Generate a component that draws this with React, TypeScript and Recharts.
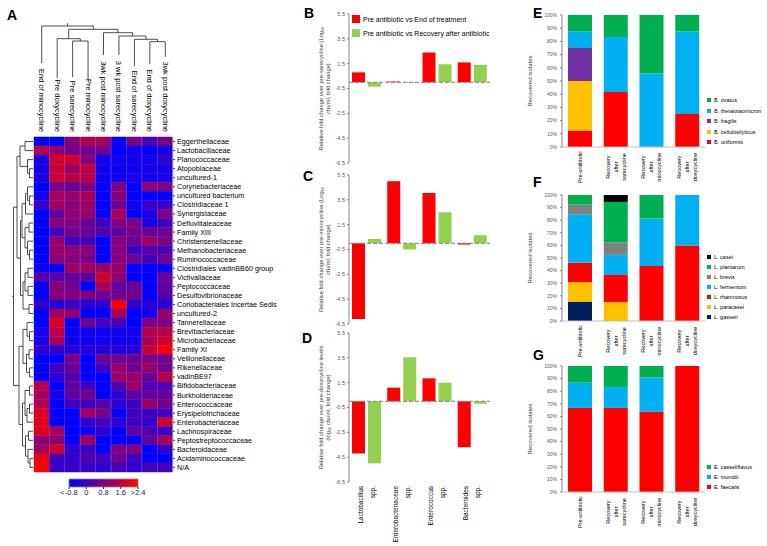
import React from "react";
import { BarChart, Bar, LineChart, Line, XAxis, YAxis, Cell, ReferenceLine, Legend } from "recharts";

const FONT = "'Liberation Sans', Arial, sans-serif";

// ---- panel A: heatmap ----
const hmCols = [
    "End of minocycline", "Pre doxycycline", "Pre sarecycline", "Pre minocycline", "3wk post minocycline",
    "3 wk post sarecycline", "End of sarecycline", "End of doxycycline", "3wk post doxycycline",
];
const hmRows = [
    "Eggerthellaceae", "Lactobacillaceae", "Planococcaceae", "Atopobiaceae", "uncultured-1", "Corynebacteriaceae",
    "uncultured bacterium", "Clostridiaceae 1", "Synergistaceae", "Defluviitaleaceae", "Family XIII",
    "Christensenellaceae", "Methanobacteriaceae", "Ruminococcaceae", "Clostridiales vadinBB60 group",
    "Victivallaceae", "Peptococcaceae", "Desulfovibrionaceae", "Coriobacteriales Incertae Sedis", "uncultured-2",
    "Tannerellaceae", "Brevibacteriaceae", "Microbacteriaceae", "Family XI", "Veillonellaceae", "Rikenellaceae",
    "vadinBE97", "Bifidobacteriaceae", "Burkholderiaceae", "Enterococcaceae", "Erysipelotrichaceae",
    "Enterobacteriaceae", "Lachnospiraceae", "Peptostreptococcaceae", "Bacteroidaceae", "Acidaminococcaceae", "N/A",
];
const hmValues = [
    [-0.8, -0.8, 0.9, 1.4, 1.2, -0.8, 0.7, 0.1, 0.7],
    [1.5, 1.1, 0.7, 0.6, 0.6, -0.8, -0.6, -0.8, -0.5],
    [-0.5, 1.8, 1.8, 0.9, -0.6, -0.6, -0.6, -0.5, -0.2],
    [-0.5, 1.7, 1.1, 1.6, -0.6, -0.6, -0.6, -0.5, -0.5],
    [-0.5, 1.7, 1.5, 1.5, -0.6, -0.6, -0.5, -0.5, -0.5],
    [-0.8, 0.7, 0.5, 0.7, -0.8, 0.8, -0.8, 1.0, 0.8],
    [-0.6, 1.3, 1.1, 1.3, -0.8, 0.9, -0.8, -0.8, -0.8],
    [-0.1, 1.2, 0.9, 1.1, -0.8, 0.6, -0.6, -0.1, -0.1],
    [-0.8, 0.4, 1.0, 1.1, -0.8, 1.3, -0.8, -0.5, 0.8],
    [-0.8, 0.9, 0.8, 0.5, 0.0, 0.8, 0.8, -0.5, 0.0],
    [-0.8, 0.0, 0.6, 0.5, 0.2, 0.4, 0.7, 0.5, 0.6],
    [-0.8, 1.1, 0.0, 0.1, -0.8, 0.9, 0.5, 1.1, 0.7],
    [-0.8, 1.1, 1.0, 0.9, -0.8, 0.9, 0.0, 0.3, 0.1],
    [-0.8, 1.0, 0.8, 0.7, -0.8, 0.9, 0.6, 0.1, 0.6],
    [-0.7, -0.8, 1.2, 1.2, 1.2, 1.0, -0.7, -0.7, -0.7],
    [0.3, 0.3, 0.4, 0.3, 1.8, 1.0, -0.8, -0.8, 0.5],
    [-0.8, 0.9, 0.6, -0.8, 1.3, 0.4, 0.6, -0.8, 0.4],
    [-0.8, 0.9, 0.8, 0.8, 0.6, 0.6, 0.6, -0.8, 0.2],
    [-0.1, -0.3, -0.1, -0.3, -0.3, 2.4, -0.2, -0.3, -0.3],
    [-0.8, 1.2, 1.0, -0.8, -0.8, 1.3, -0.8, -0.6, 1.1],
    [-0.8, 2.0, -0.8, 0.6, 0.1, 0.1, -0.8, 0.8, 0.8],
    [-0.5, 1.5, -0.6, -0.6, -0.6, -0.6, -0.6, 1.4, 1.5],
    [-0.5, 1.3, -0.6, -0.6, -0.6, -0.6, -0.6, 1.3, 1.8],
    [-0.2, -0.2, -0.3, -0.3, -0.3, -0.3, -0.3, 1.7, 2.3],
    [-0.8, -0.8, 0.7, -0.8, 0.6, 0.6, 0.6, 0.8, 0.6],
    [-0.8, 0.0, 0.5, -0.8, 0.0, 1.1, 0.6, 1.1, 0.6],
    [-0.8, -0.2, 0.2, -0.8, -0.8, 1.2, 1.1, 0.5, 1.5],
    [1.5, -0.8, 0.4, 0.0, -0.8, 0.2, 1.1, 0.2, 0.2],
    [1.3, -0.5, 0.4, 0.6, -0.8, -0.2, 0.4, 0.4, 0.5],
    [1.4, -0.8, 0.0, 0.0, 0.3, -0.2, 0.0, 1.1, 0.6],
    [2.0, -0.8, -0.8, 1.2, 0.7, -0.8, 0.0, 0.0, 0.0],
    [2.0, -0.8, -0.8, -0.2, 0.0, -0.2, 0.0, -0.2, 1.8],
    [2.0, 1.3, -0.8, -0.6, -0.2, -0.8, 0.4, 0.2, -0.1],
    [0.9, 1.0, -0.8, 1.2, -0.8, -0.8, -0.8, 0.4, 1.3],
    [1.2, 1.8, -0.2, 0.0, -0.8, 0.8, 0.8, -0.8, -0.2],
    [2.2, 0.0, -0.2, 0.2, 0.0, 0.6, 0.0, -0.8, -0.8],
    [2.4, -0.1, -0.1, -0.1, -0.2, 0.1, -0.2, 0.1, 0.1],
];

// dendrograms: [left node, right node, merge height]; nodes >= n are earlier merges
const colLinks = [
    [2, 3, 41], [1, 9, 43.3], [7, 8, 40.3], [6, 11, 42.7], [5, 12, 46], [4, 13, 49.3], [10, 14, 52.7], [0, 15, 56],
];
const colLeafBase = [19, 4, 5, 2, 27, 27, 16, 18, 25];
const colRootTop = 58.7;
const rowLinks = [
    [3, 4, 3.5], [2, 37, 5.5], [0, 1, 8], [39, 38, 13], [6, 7, 3.5], [5, 41, 5.5], [42, 8, 7.5], [9, 10, 4],
    [12, 13, 3.5], [11, 45, 5.5], [44, 46, 8], [43, 47, 11], [14, 15, 5], [16, 17, 5], [49, 50, 8], [18, 19, 4],
    [51, 52, 10], [48, 53, 12.5], [40, 54, 16], [21, 22, 3.5], [20, 56, 6], [23, 24, 4], [25, 26, 3.5], [58, 59, 6.5],
    [57, 60, 10], [27, 28, 3.5], [29, 30, 3.5], [63, 31, 6], [62, 64, 8], [32, 33, 4.5], [35, 36, 3], [34, 67, 5],
    [66, 68, 7.5], [65, 69, 10.5], [61, 70, 14], [55, 71, 19.5],
];
const rowRootTop = 21;

const scaleTicks = [-0.8, 0, 0.8, 1.6, 2.4];
const scaleLabels = ["<-0.8", "0", "0.8", "1.6", ">2.4"];

// ---- panels B-D: fold change ----
const taxa = ["Lactobacillus spp.", "Enterobacteriaceae spp.", "Enterococcus spp.", "Bacteroides spp."];
const foldTicks = [-6.5, -4.5, -2.5, -0.5, 1.5, 3.5, 5.5];
const sareEnd = [0.8, 0.06, 2.4, 1.6];
const sareRec = [-0.35, -0.05, 1.45, 1.4];
const minoEnd = [-6.1, 5.0, 4.05, -0.1];
const minoRec = [0.35, -0.5, 2.5, 0.65];
const doxyEnd = [-4.2, 1.1, 1.85, -3.7];
const doxyRec = [-5.0, 3.55, 1.5, -0.2];

// ---- panels E-G: recovered isolates (%) ----
const isoCats = ["Pre-antibiotic", "Recovery after sarecycline", "Recovery after minocycline", "Recovery after doxycycline"];
const pctTicks = [0, 10, 20, 30, 40, 50, 60, 70, 80, 90, 100];

const bUniformis = [12.5, 41.7, 0, 25];
const bCellulosilyticus = [37.5, 0, 0, 0];
const bFragilis = [25, 0, 0, 0];
const bTheta = [12.5, 41.6, 55.6, 62.5];
const bOvatus = [12.5, 16.7, 44.4, 12.5];

const lGasseri = [15.4, 0, 0, 0];
const lParacasei = [15.4, 15, 0, 0];
const lRhamnosus = [15.4, 21.5, 43.75, 60];
const lFermentum = [38.5, 16, 37.5, 40];
const lBrevis = [7.7, 10, 0, 0];
const lPlantarum = [7.6, 32, 18.75, 0];
const lCasei = [0, 5.5, 0, 0];

const eFaecalis = [66.7, 66.7, 63.6, 100];
const eMundtii = [20, 16.6, 27.3, 0];
const eCasseliflavus = [13.3, 16.7, 9.1, 0];

const bacteroidesSeries = [
    { name: "B. uniformis", color: "#FF0000", values: bUniformis },
    { name: "B. cellulosilyticus", color: "#FFC000", values: bCellulosilyticus },
    { name: "B. fragilis", color: "#7030A0", values: bFragilis },
    { name: "B. thetaiotaomicron", color: "#00B0F0", values: bTheta },
    { name: "B. ovatus", color: "#00B050", values: bOvatus },
];
const lactoSeries = [
    { name: "L. gasseri", color: "#002060", values: lGasseri },
    { name: "L. paracasei", color: "#FFC000", values: lParacasei },
    { name: "L. rhamnosus", color: "#FF0000", values: lRhamnosus },
    { name: "L. fermentum", color: "#00B0F0", values: lFermentum },
    { name: "L. brevis", color: "#808080", values: lBrevis },
    { name: "L. plantarum", color: "#00B050", values: lPlantarum },
    { name: "L. casei", color: "#000000", values: lCasei },
];
const enteroSeries = [
    { name: "E. faecalis", color: "#FF0000", values: eFaecalis },
    { name: "E. mundtii", color: "#00B0F0", values: eMundtii },
    { name: "E. casseliflavus", color: "#00B050", values: eCasseliflavus },
];

const heatColor = (v: number) => {
    const t = Math.min(1, Math.max(0, (v + 0.8) / 3.2));
    return `rgb(${Math.round(255 * t)},0,${Math.round(255 * (1 - t))})`;
};

function dendroPoints(links: number[][], n: number, base: number[] | null, rootTop: number, sideways: boolean) {
    const pos: number[] = [];
    const h: number[] = [];
    for (let i = 0; i < n; i++) {
        pos.push(i + 0.5);
        h.push(base ? base[i] : 0);
    }
    const pts: { x: number; y: number | null }[] = [];
    const add = (p: number, d: number) => pts.push(sideways ? { x: d, y: p } : { x: p, y: d });
    links.forEach(([a, b, d]) => {
        add(pos[a], h[a]);
        add(pos[a], d);
        add(pos[b], d);
        add(pos[b], h[b]);
        pts.push({ x: pts[pts.length - 1].x, y: null });
        pos.push((pos[a] + pos[b]) / 2);
        h.push(d);
    });
    const root = pos.length - 1;
    add(pos[root], h[root]);
    add(pos[root], rootTop);
    return pts;
}

const ColTick = ({ x, y, payload }: any) => (
    <text x={x} y={y} transform={`rotate(90 ${x} ${y})`} textAnchor="end" dominantBaseline="central"
        fontSize={7.5} fontFamily={FONT} fill="#000">
        {payload.value}
    </text>
);

const RowTick = ({ x, y, payload }: any) => (
    <text x={x} y={y} textAnchor="start" dominantBaseline="central" fontSize={7.2} fontFamily={FONT} fill="#000">
        {hmRows[Math.floor(payload.value)]}
    </text>
);

function Heatmap() {
    const data = hmCols.map((name) => {
        const row: any = { name };
        hmRows.forEach((_, r) => { row[`r${r}`] = 1; });
        return row;
    });
    const rowTicks = hmRows.map((_, i) => i + 0.5);
    return (
        <div style={{ position: "absolute", left: 0, top: 0 }}>
            <BarChart width={300} height={546} data={data} margin={{ top: 136, right: 0, bottom: 74, left: 34 }} barCategoryGap={0}>
                <XAxis dataKey="name" orientation="top" height={1} axisLine={false} tickLine={false} tickSize={0}
                    tickMargin={5} interval={0} tick={ColTick} />
                <YAxis orientation="right" type="number" domain={[0, 37]} reversed ticks={rowTicks} interval={0}
                    width={127} tickSize={2} tickMargin={2} axisLine={{ stroke: "#bbb" }} tickLine={{ stroke: "#444" }}
                    tick={RowTick} />
                {hmRows.map((_, r) => (
                    <Bar key={r} dataKey={`r${r}`} stackId="hm" isAnimationActive={false}>
                        {hmCols.map((__, c) => {
                            const col = heatColor(hmValues[r][c]);
                            return <Cell key={c} fill={col} stroke={col} strokeWidth={0.5} />;
                        })}
                    </Bar>
                ))}
            </BarChart>
        </div>
    );
}

function Dendrograms() {
    const colPts = dendroPoints(colLinks, hmCols.length, colLeafBase, colRootTop, false);
    const rowPts = dendroPoints(rowLinks, hmRows.length, null, rowRootTop, true);
    return (
        <>
            <div style={{ position: "absolute", left: 0, top: 0 }}>
                <LineChart width={300} height={90} data={colPts} margin={{ top: 20, right: 127, bottom: 8, left: 34 }}>
                    <XAxis type="number" dataKey="x" domain={[0, 9]} hide />
                    <YAxis type="number" domain={[0, 62]} hide />
                    <Line dataKey="y" stroke="#222" strokeWidth={0.8} dot={false} connectNulls={false} isAnimationActive={false} />
                </LineChart>
            </div>
            <div style={{ position: "absolute", left: 0, top: 0 }}>
                <LineChart width={300} height={546} data={rowPts} margin={{ top: 137, right: 267, bottom: 74, left: 10 }}>
                    <XAxis type="number" dataKey="x" domain={[0, 23]} reversed hide />
                    <YAxis type="number" domain={[0, 37]} reversed hide />
                    <Line dataKey="y" stroke="#222" strokeWidth={0.8} dot={false} connectNulls={false} isAnimationActive={false} />
                </LineChart>
            </div>
        </>
    );
}

function ColorScale() {
    const span = [{ name: "scale", range: [scaleTicks[0], scaleTicks[scaleTicks.length - 1]] }];
    return (
        <div style={{ position: "absolute", left: 60, top: 470 }}>
            <BarChart layout="vertical" width={90} height={35} data={span} margin={{ top: 9, right: 12, bottom: 6, left: 9 }}
                barCategoryGap={0}>
                <XAxis type="number" domain={[-0.8, 2.4]} ticks={scaleTicks} interval={0} height={12}
                    tickSize={2} tickMargin={1} axisLine={false} tickLine={{ stroke: "#333" }}
                    tick={{ fontSize: 7.5, fill: "#222", fontFamily: FONT }}
                    tickFormatter={(v: number) => scaleLabels[scaleTicks.indexOf(v)]} />
                <YAxis type="category" dataKey="name" hide />
                <Bar dataKey="range" fill="url(#hmGrad)" stroke="#888" strokeWidth={0.8} isAnimationActive={false} />
            </BarChart>
        </div>
    );
}

const axisLabel = (lines: string[], dx: number, size: number) => ({ viewBox }: any) => {
    const cy = viewBox.y + viewBox.height / 2;
    return (
        <g>
            {lines.map((t, i) => {
                const lx = viewBox.x + dx + i * 7;
                return (
                    <text key={i} x={lx} y={cy} transform={`rotate(-90 ${lx} ${cy})`} textAnchor="middle"
                        fontSize={size} fontFamily={FONT} fill="#404040">
                        {t}
                    </text>
                );
            })}
        </g>
    );
};

const TaxonTick = ({ x, y, payload }: any) => {
    const words = String(payload.value).split(" ");
    return (
        <g>
            {words.map((w, i) => {
                const lx = x + (i - (words.length - 1) / 2) * 12 + 2;
                return (
                    <text key={i} x={lx} y={y} transform={`rotate(-90 ${lx} ${y})`} textAnchor="end"
                        fontSize={6.5} fontFamily={FONT} fill="#000">
                        {w}
                    </text>
                );
            })}
        </g>
    );
};

function FoldPanel({ top, height, bottom, end, rec, lines, cats, legend }: any) {
    const data = taxa.map((name, i) => ({ name, end: end[i], rec: rec[i] }));
    return (
        <div style={{ position: "absolute", left: 300, top }}>
            <BarChart width={200} height={height} data={data} margin={{ top: 5, right: 10, bottom, left: 29 }}
                barGap={3} barSize={13}>
                <XAxis dataKey="name" hide={!cats} axisLine={false} tickLine={false} interval={0} height={55}
                    tickSize={0} tickMargin={4} tick={TaxonTick} />
                <YAxis domain={[-6.5, 5.5]} ticks={foldTicks} interval={0} width={20} tickSize={2} tickMargin={2}
                    axisLine={{ stroke: "#868686" }} tickLine={{ stroke: "#868686" }}
                    tick={{ fontSize: 5.5, fill: "#595959", fontFamily: FONT }}
                    label={{ content: axisLabel(lines, -6, 5.8) }} />
                <Bar dataKey="end" name="Pre antibiotic vs End of treatment" fill="#FF0000" isAnimationActive={false} />
                <Bar dataKey="rec" name="Pre antibiotic vs Recovery after antibiotic" fill="#92D050" isAnimationActive={false} />
                <ReferenceLine y={0} stroke="#7f7f7f" strokeDasharray="4 2" />
                {legend && (
                    <Legend layout="vertical" align="center" verticalAlign="middle"
                        wrapperStyle={{ left: 52, top: 3, width: "auto", height: "auto" }}
                        content={() => (
                            <div style={{ fontFamily: FONT, fontSize: 7, color: "#000" }}>
                                {[["Pre antibiotic vs End of treatment", "#FF0000"], ["Pre antibiotic vs Recovery after antibiotic", "#92D050"]].map(([n, c]) => (
                                    <div key={n} style={{ display: "flex", alignItems: "center", height: 14, whiteSpace: "nowrap" }}>
                                        <span style={{ width: 8, height: 8, background: c, marginRight: 3, display: "inline-block" }} />
                                        {n}
                                    </div>
                                ))}
                            </div>
                        )} />
                )}
            </BarChart>
        </div>
    );
}

const IsoTick = ({ x, y, payload }: any) => {
    const words = String(payload.value).split(" ");
    const cy = y + 18;
    return (
        <g>
            {words.map((w, i) => {
                const lx = x + (i - (words.length - 1) / 2) * 8 + 2;
                return (
                    <text key={i} x={lx} y={cy} transform={`rotate(-90 ${lx} ${cy})`} textAnchor="middle"
                        fontSize={5.5} fontFamily={FONT} fill="#000">
                        {w}
                    </text>
                );
            })}
        </g>
    );
};

function IsoPanel({ top, plotH, series, legendTop, rowH }: any) {
    const data = isoCats.map((name, i) => {
        const d: any = { name };
        series.forEach((s: any, k: number) => { d[`s${k}`] = s.values[i]; });
        return d;
    });
    const legendItems = [...series].reverse();
    return (
        <div style={{ position: "absolute", left: 500, top }}>
            <BarChart width={267} height={5 + plotH + 45} data={data} margin={{ top: 5, right: 62, bottom: 0, left: 40 }} barSize={24}>
                <XAxis dataKey="name" interval={0} axisLine={{ stroke: "#bfbfbf" }} tickLine={false} height={45}
                    tickSize={0} tickMargin={2} tick={IsoTick} />
                <YAxis domain={[0, 100]} ticks={pctTicks} interval={0} width={22} tickSize={2} tickMargin={3}
                    axisLine={{ stroke: "#868686" }} tickLine={{ stroke: "#868686" }}
                    tick={{ fontSize: 5, fill: "#595959", fontFamily: FONT }}
                    tickFormatter={(v: number) => `${v}%`}
                    label={{ content: axisLabel(["Recovered isolates"], -8, 6) }} />
                {series.map((s: any, k: number) => (
                    <Bar key={s.name} dataKey={`s${k}`} name={s.name} stackId="s" fill={s.color} isAnimationActive={false} />
                ))}
                <Legend layout="vertical" align="center" verticalAlign="middle"
                    wrapperStyle={{ left: 207, top: legendTop, width: "auto", height: "auto" }}
                    content={() => (
                        <div style={{ fontFamily: FONT, fontSize: 5.5, color: "#000" }}>
                            {legendItems.map((s: any) => (
                                <div key={s.name} style={{ display: "flex", alignItems: "center", height: rowH, whiteSpace: "nowrap" }}>
                                    <span style={{ width: 4, height: 4, background: s.color, marginRight: 3, display: "inline-block" }} />
                                    {s.name}
                                </div>
                            ))}
                        </div>
                    )} />
            </BarChart>
        </div>
    );
}

const PanelLetter = ({ ch, left, top }: any) => (
    <div style={{ position: "absolute", left, top, font: `bold 14px ${FONT}`, lineHeight: "14px" }}>{ch}</div>
);

export default function App() {
    return (
        <div style={{ position: "absolute", left: 0, top: 0, width: 767, height: 546, background: "#fff", overflow: "hidden", fontFamily: FONT }}>
            <svg width={1} height={1} style={{ position: "absolute", left: 0, top: 0 }}>
                <defs>
                    <linearGradient id="hmGrad" x1="0" x2="1" y1="0" y2="0">
                        <stop offset="0" stopColor={heatColor(scaleTicks[0])} />
                        <stop offset="1" stopColor={heatColor(scaleTicks[scaleTicks.length - 1])} />
                    </linearGradient>
                </defs>
            </svg>
            <Heatmap />
            <Dendrograms />
            <ColorScale />
            <FoldPanel top={9} height={160} bottom={6} end={sareEnd} rec={sareRec} legend
                lines={["Relative fold change over pre-sarecycline (Log\u2081\u2080", "cfu/ml, fold change)"]} />
            <FoldPanel top={170} height={160} bottom={6} end={minoEnd} rec={minoRec}
                lines={["Relative fold change over pre-minocycline (Log\u2081\u2080", "cfu/ml, fold change)"]} />
            <FoldPanel top={328} height={217} bottom={8} end={doxyEnd} rec={doxyRec} cats
                lines={["Relative fold change over pre-doxycycline levels", "(log\u2081\u2080 cfu/ml, fold change)"]} />
            <IsoPanel top={10} plotH={132} series={bacteroidesSeries} legendTop={84.75} rowH={10.5} />
            <IsoPanel top={190} plotH={126} series={lactoSeries} legendTop={62} rowH={10} />
            <IsoPanel top={361} plotH={126} series={enteroSeries} legendTop={101} rowH={10} />
            <PanelLetter ch="A" left={7} top={8} />
            <PanelLetter ch="B" left={304} top={6} />
            <PanelLetter ch="C" left={303} top={169} />
            <PanelLetter ch="D" left={302} top={331} />
            <PanelLetter ch="E" left={533} top={6} />
            <PanelLetter ch="F" left={533} top={175} />
            <PanelLetter ch="G" left={533} top={348} />
        </div>
    );
}
